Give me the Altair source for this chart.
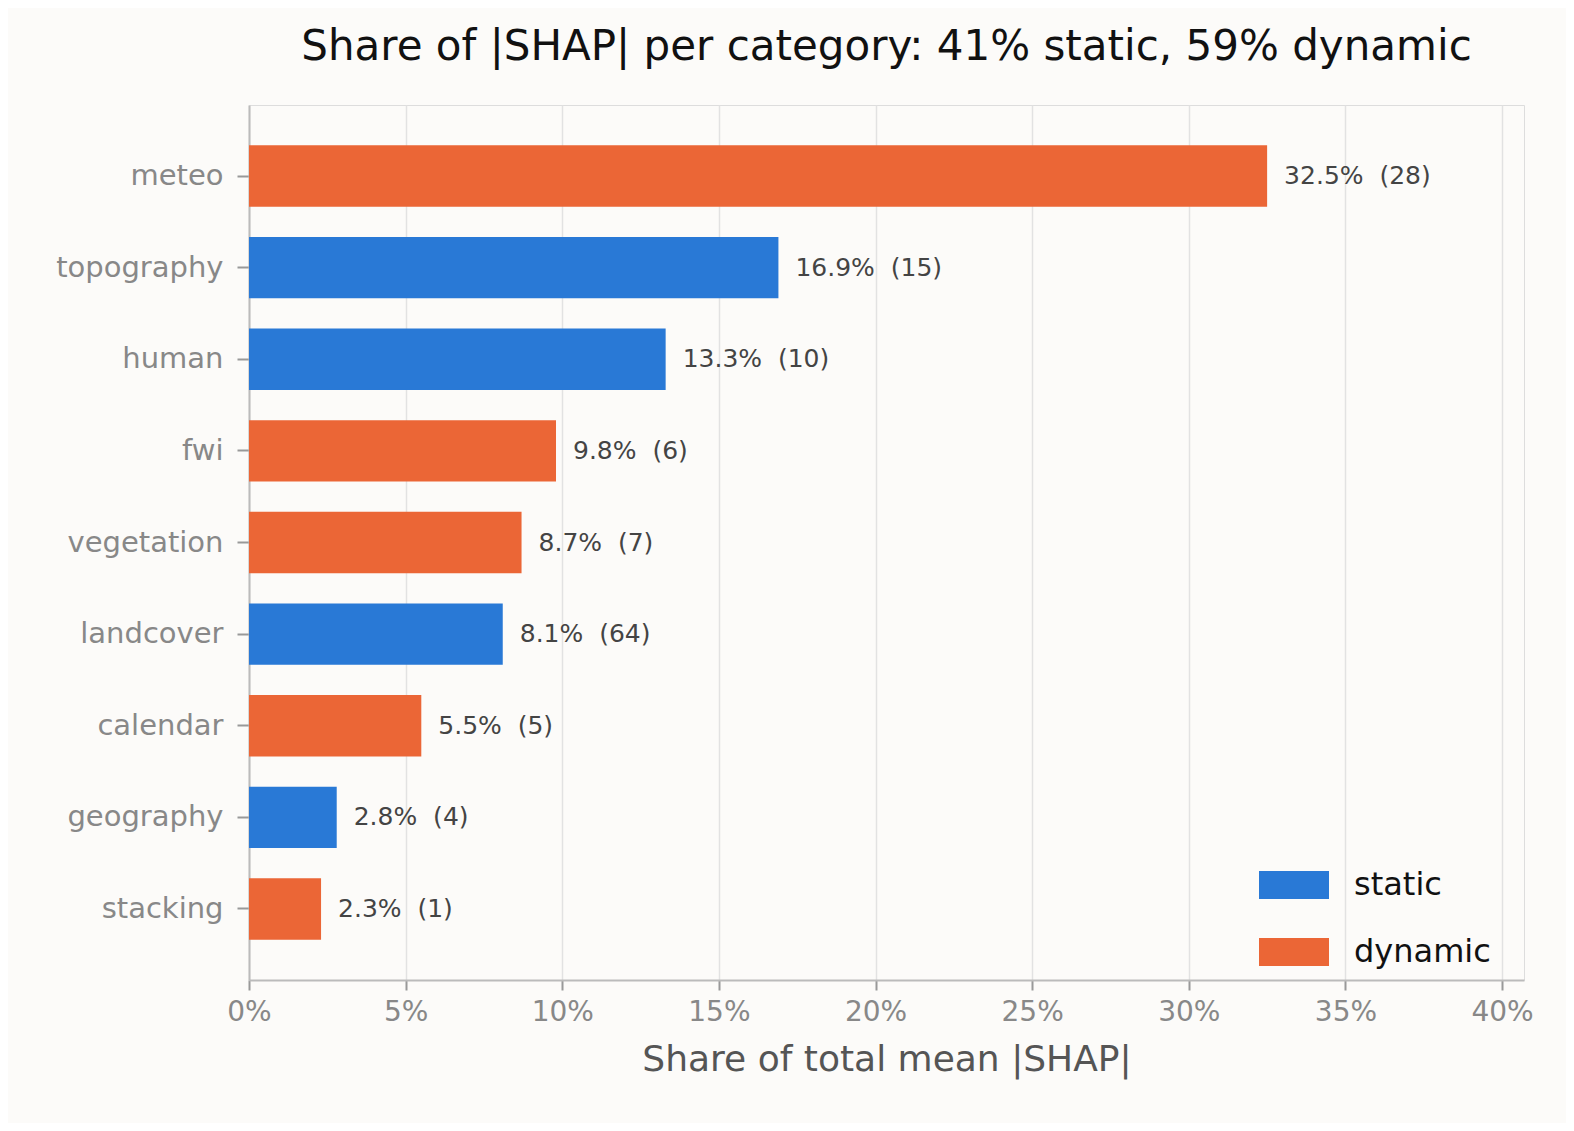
import pandas as pd
import altair as alt

categories = ["meteo", "topography", "human", "fwi", "vegetation", "landcover", "calendar", "geography", "stacking"]
shares = [32.5, 16.9, 13.3, 9.8, 8.7, 8.1, 5.5, 2.8, 2.3]
counts = [28, 15, 10, 6, 7, 64, 5, 4, 1]
kinds = ["dynamic", "static", "static", "dynamic", "dynamic", "static", "dynamic", "static", "dynamic"]

df = pd.DataFrame({"cat": categories, "share": [s / 100 for s in shares], "kind": kinds})
df["label"] = [f"{s:.1f}%\u00a0\u00a0({c})" for s, c in zip(shares, counts)]

yenc = alt.Y("cat:N", sort=categories, title=None,
             scale=alt.Scale(paddingInner=0.33, paddingOuter=0.44),
             axis=alt.Axis(labelFontSize=29, labelColor="#888", tickColor="#999", tickSize=12,
                           tickWidth=2, labelPadding=14, domainColor="#bbb", domainWidth=2))
xenc = alt.X("share:Q", title="Share of total mean |SHAP|",
             scale=alt.Scale(domain=[0, 0.407], nice=False),
             axis=alt.Axis(format=".0%", values=[i / 20 for i in range(9)], labelFontSize=28,
                           labelFlush=False, labelPadding=8,
                           labelColor="#888", titleFontSize=36, titleColor="#555", titleFontWeight="normal",
                           titlePadding=16, gridColor="#e2e2e2", gridWidth=1.5, domainColor="#bbb",
                           domainWidth=2, tickColor="#999", tickSize=10, tickWidth=2))

bars = alt.Chart(df).mark_bar().encode(
    x=xenc, y=yenc,
    color=alt.Color("kind:N", scale=alt.Scale(domain=["static", "dynamic"], range=["#2979d6", "#eb6636"]),
                    legend=alt.Legend(title=None, orient="none", legendX=1010, legendY=745,
                                      labelFontSize=32, labelColor="#111", symbolType="M-1,-0.4H1V0.4H-1Z",
                                      symbolSize=4900, symbolOpacity=1, symbolStrokeWidth=0,
                                      rowPadding=16, labelOffset=25)),
)
text = alt.Chart(df).mark_text(align="left", dx=17, fontSize=25, color="#444").encode(
    x="share:Q", y=alt.Y("cat:N", sort=categories), text="label:N")

chart = (bars + text).properties(
    width=1275, height=875,
    title=alt.Title("Share of |SHAP| per category: 41% static, 59% dynamic", fontSize=42,
                    fontWeight="normal", color="#111", offset=36),
    autosize=alt.AutoSizeParams(type="none"),
    padding={"left": 241, "top": 97, "right": 42, "bottom": 143},
    background="#fcfbf9",
).configure_view(stroke="transparent", strokeWidth=0).configure(font="DejaVu Sans")

chart.save("out.html", embed_options={"renderer": "svg", "actions": False})
